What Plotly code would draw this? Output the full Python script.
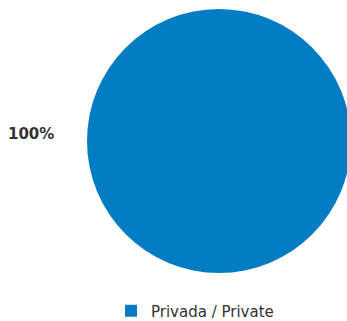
import plotly.graph_objects as go

# Datos
labels = ["Privada / Private"]
values = [100]
colors = ["#027cc2"]

# la tarta se sale un poco por la derecha de la ventana, como en el original
W, H = 351, 321
ML, MR, MT, MB = 87, 0, 9, 48
PW, PH = W - ML - MR, H - MT - MB

total = sum(values)
pct_text = f"{values[0] / total * 100:.0f}%"

fig = go.Figure(
    go.Pie(
        labels=labels,
        values=values,
        marker=dict(colors=colors, line=dict(width=0)),
        textinfo="none",
        sort=False,
        hoverinfo="label+percent",
    )
)

fig.add_annotation(
    text=f"<b>{pct_text}</b>",
    xref="paper",
    yref="paper",
    x=(31 - ML) / PW,
    y=(H - MB - 134) / PH,
    xanchor="center",
    yanchor="middle",
    showarrow=False,
    font=dict(family="DejaVu Sans", size=15, color="#333333"),
)

fig.update_layout(
    width=W,
    height=H,
    autosize=False,
    margin=dict(l=ML, r=MR, t=MT, b=MB, autoexpand=False),
    paper_bgcolor="white",
    plot_bgcolor="white",
    font=dict(family="DejaVu Sans", size=15, color="#333333"),
    showlegend=True,
    legend=dict(
        orientation="h",
        xref="container",
        yref="container",
        x=195 / W,
        xanchor="center",
        y=1 - 311 / H,
        yanchor="middle",
        font=dict(family="DejaVu Sans", size=15, color="#333333"),
    ),
)

# sin margen del body y sin barras de desplazamiento
no_scroll = (
    "document.body.style.margin='0';"
    "document.documentElement.style.overflow='hidden';"
    "document.body.style.overflow='hidden';"
)
fig.write_html(
    "out.html",
    default_width=f"{W}px",
    default_height=f"{H}px",
    post_script=no_scroll,
    config={"displayModeBar": False},
)
